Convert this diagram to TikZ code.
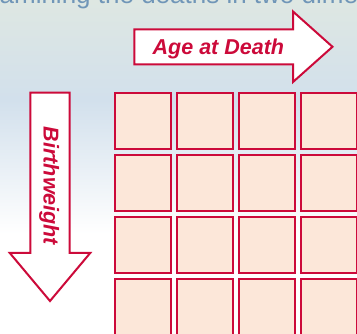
\documentclass[tikz,border=0pt]{standalone}
\usepackage{fontspec}
\setmainfont{Liberation Sans}
\definecolor{Crim}{HTML}{CC0A3A}
\definecolor{Peach}{HTML}{FCE7D9}
\definecolor{SkyTop}{HTML}{DEE7E2}
\definecolor{SkyMid}{HTML}{D2E0EC}
\definecolor{Slate}{HTML}{7096B8}
\pgfdeclareverticalshading{skyfade}{100bp}{color(0bp)=(white); color(40bp)=(white); color(60bp)=(SkyMid); color(75bp)=(SkyTop); color(100bp)=(SkyTop)}

\begin{document}
\begin{tikzpicture}[x=1pt,y=-1pt,
    cell/.style={draw=Crim,fill=Peach,line width=2pt,minimum size=56pt,inner sep=0pt},
    axislabel/.style={inner sep=0pt,text=Crim,font=\fontsize{21.5}{25}\selectfont\bfseries\itshape},
    bigarrow/.style={draw=Crim,fill=white,line width=2pt,line join=miter}]
    \useasboundingbox (0,0) rectangle (357,334);
    \clip (0,0) rectangle (357,334);
    \shade[shading=skyfade] (0,0) rectangle (357,334);
    \node[anchor=base west,inner sep=0pt,text=Slate,font=\fontsize{26}{30}\selectfont] (title) at (-28,4) {examining the deaths in two dimensions};
    % arrows
    \draw[bigarrow] (134.3,29.3) -- (293,29.3) -- (293,11.5) -- (332.5,46.8) -- (293,82) -- (293,64.3) -- (134.3,64.3) -- cycle;
    \draw[bigarrow] (30.3,92.7) -- (69.7,92.7) -- (69.7,253) -- (90.2,253) -- (50,301) -- (9.8,253) -- (30.3,253) -- cycle;
    \node[axislabel,anchor=base] (age) at (218.4,55) {Age at Death};
    \node[axislabel,anchor=base,rotate=-90] (bw) at (43.5,186) {Birthweight};
    % grid of cells
    \foreach \r in {0,...,3}
      \foreach \c in {0,...,3}
        \node[cell] (c\r\c) at ({143+62*\c},{120.7+62*\r}) {};
\end{tikzpicture}
\end{document}
